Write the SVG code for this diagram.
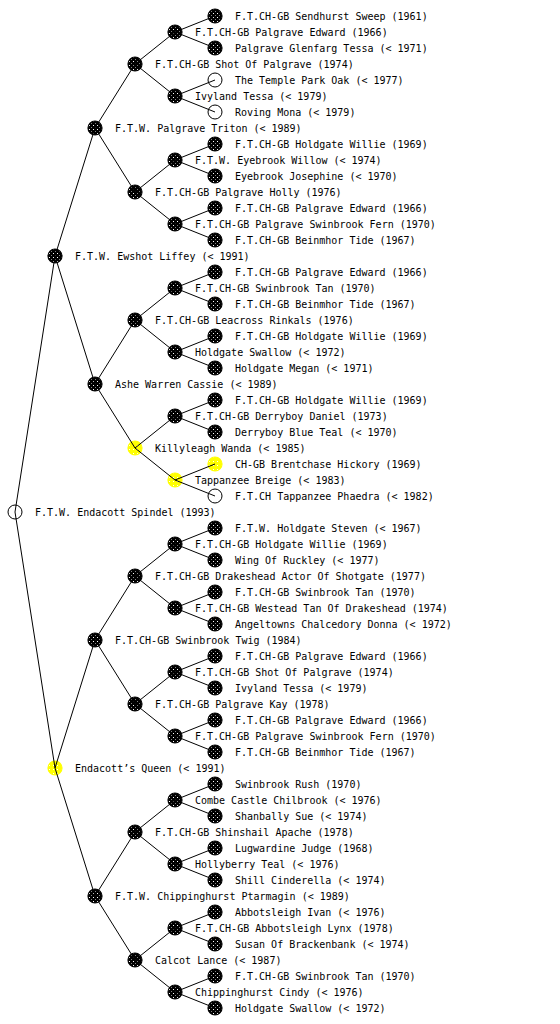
<svg xmlns="http://www.w3.org/2000/svg" width="560" height="1024" viewBox="0 0 560 1024">
<style>
text{font-family:"DejaVu Sans Mono","Liberation Mono",monospace;font-size:10px;fill:#000}
.b{fill:url(#pb);stroke:#000;stroke-width:1.2}
.y{fill:url(#py);stroke:#ffff00;stroke-width:1.2}
.w{fill:#fff;stroke:#000;stroke-width:1}
#edges path{fill:none;stroke:#000;stroke-width:1}
</style>
<defs>
<pattern id="pb" patternUnits="userSpaceOnUse" width="4" height="4"><rect width="4" height="4" fill="#000"/><rect x="1" y="1" width="1" height="1" fill="#fff"/><rect x="3" y="3" width="1" height="1" fill="#fff" opacity="0.5"/></pattern>
<pattern id="py" patternUnits="userSpaceOnUse" width="4" height="4"><rect width="4" height="4" fill="#ffff00"/><rect x="1" y="1" width="1" height="1" fill="#fff"/></pattern>
</defs>
<rect width="560" height="1024" fill="#fff"/>
<g id="nodes">
<g id="n0"><circle class="w" cx="15" cy="512" r="7"/><text x="35" y="516">F.T.W. Endacott Spindel (1993)</text></g>
<g id="n1"><circle class="b" cx="55" cy="256" r="7"/><text x="75" y="260">F.T.W. Ewshot Liffey (&lt; 1991)</text></g>
<g id="n2"><circle class="y" cx="55" cy="768" r="7"/><text x="75" y="772">Endacott’s Queen (&lt; 1991)</text></g>
<g id="n3"><circle class="b" cx="95" cy="128" r="7"/><text x="115" y="132">F.T.W. Palgrave Triton (&lt; 1989)</text></g>
<g id="n4"><circle class="b" cx="95" cy="384" r="7"/><text x="115" y="388">Ashe Warren Cassie (&lt; 1989)</text></g>
<g id="n5"><circle class="b" cx="95" cy="640" r="7"/><text x="115" y="644">F.T.CH-GB Swinbrook Twig (1984)</text></g>
<g id="n6"><circle class="b" cx="95" cy="896" r="7"/><text x="115" y="900">F.T.W. Chippinghurst Ptarmagin (&lt; 1989)</text></g>
<g id="n7"><circle class="b" cx="135" cy="64" r="7"/><text x="155" y="68">F.T.CH-GB Shot Of Palgrave (1974)</text></g>
<g id="n8"><circle class="b" cx="135" cy="192" r="7"/><text x="155" y="196">F.T.CH-GB Palgrave Holly (1976)</text></g>
<g id="n9"><circle class="b" cx="135" cy="320" r="7"/><text x="155" y="324">F.T.CH-GB Leacross Rinkals (1976)</text></g>
<g id="n10"><circle class="y" cx="135" cy="448" r="7"/><text x="155" y="452">Killyleagh Wanda (&lt; 1985)</text></g>
<g id="n11"><circle class="b" cx="135" cy="576" r="7"/><text x="155" y="580">F.T.CH-GB Drakeshead Actor Of Shotgate (1977)</text></g>
<g id="n12"><circle class="b" cx="135" cy="704" r="7"/><text x="155" y="708">F.T.CH-GB Palgrave Kay (1978)</text></g>
<g id="n13"><circle class="b" cx="135" cy="832" r="7"/><text x="155" y="836">F.T.CH-GB Shinshail Apache (1978)</text></g>
<g id="n14"><circle class="b" cx="135" cy="960" r="7"/><text x="155" y="964">Calcot Lance (&lt; 1987)</text></g>
<g id="n15"><circle class="b" cx="175" cy="32" r="7"/><text x="195" y="36">F.T.CH-GB Palgrave Edward (1966)</text></g>
<g id="n16"><circle class="b" cx="175" cy="96" r="7"/><text x="195" y="100">Ivyland Tessa (&lt; 1979)</text></g>
<g id="n17"><circle class="b" cx="175" cy="160" r="7"/><text x="195" y="164">F.T.W. Eyebrook Willow (&lt; 1974)</text></g>
<g id="n18"><circle class="b" cx="175" cy="224" r="7"/><text x="195" y="228">F.T.CH-GB Palgrave Swinbrook Fern (1970)</text></g>
<g id="n19"><circle class="b" cx="175" cy="288" r="7"/><text x="195" y="292">F.T.CH-GB Swinbrook Tan (1970)</text></g>
<g id="n20"><circle class="b" cx="175" cy="352" r="7"/><text x="195" y="356">Holdgate Swallow (&lt; 1972)</text></g>
<g id="n21"><circle class="b" cx="175" cy="416" r="7"/><text x="195" y="420">F.T.CH-GB Derryboy Daniel (1973)</text></g>
<g id="n22"><circle class="y" cx="175" cy="480" r="7"/><text x="195" y="484">Tappanzee Breige (&lt; 1983)</text></g>
<g id="n23"><circle class="b" cx="175" cy="544" r="7"/><text x="195" y="548">F.T.CH-GB Holdgate Willie (1969)</text></g>
<g id="n24"><circle class="b" cx="175" cy="608" r="7"/><text x="195" y="612">F.T.CH-GB Westead Tan Of Drakeshead (1974)</text></g>
<g id="n25"><circle class="b" cx="175" cy="672" r="7"/><text x="195" y="676">F.T.CH-GB Shot Of Palgrave (1974)</text></g>
<g id="n26"><circle class="b" cx="175" cy="736" r="7"/><text x="195" y="740">F.T.CH-GB Palgrave Swinbrook Fern (1970)</text></g>
<g id="n27"><circle class="b" cx="175" cy="800" r="7"/><text x="195" y="804">Combe Castle Chilbrook (&lt; 1976)</text></g>
<g id="n28"><circle class="b" cx="175" cy="864" r="7"/><text x="195" y="868">Hollyberry Teal (&lt; 1976)</text></g>
<g id="n29"><circle class="b" cx="175" cy="928" r="7"/><text x="195" y="932">F.T.CH-GB Abbotsleigh Lynx (1978)</text></g>
<g id="n30"><circle class="b" cx="175" cy="992" r="7"/><text x="195" y="996">Chippinghurst Cindy (&lt; 1976)</text></g>
<g id="n31"><circle class="b" cx="215" cy="16" r="7"/><text x="235" y="20">F.T.CH-GB Sendhurst Sweep (1961)</text></g>
<g id="n32"><circle class="b" cx="215" cy="48" r="7"/><text x="235" y="52">Palgrave Glenfarg Tessa (&lt; 1971)</text></g>
<g id="n33"><circle class="w" cx="215" cy="80" r="7"/><text x="235" y="84">The Temple Park Oak (&lt; 1977)</text></g>
<g id="n34"><circle class="w" cx="215" cy="112" r="7"/><text x="235" y="116">Roving Mona (&lt; 1979)</text></g>
<g id="n35"><circle class="b" cx="215" cy="144" r="7"/><text x="235" y="148">F.T.CH-GB Holdgate Willie (1969)</text></g>
<g id="n36"><circle class="b" cx="215" cy="176" r="7"/><text x="235" y="180">Eyebrook Josephine (&lt; 1970)</text></g>
<g id="n37"><circle class="b" cx="215" cy="208" r="7"/><text x="235" y="212">F.T.CH-GB Palgrave Edward (1966)</text></g>
<g id="n38"><circle class="b" cx="215" cy="240" r="7"/><text x="235" y="244">F.T.CH-GB Beinmhor Tide (1967)</text></g>
<g id="n39"><circle class="b" cx="215" cy="272" r="7"/><text x="235" y="276">F.T.CH-GB Palgrave Edward (1966)</text></g>
<g id="n40"><circle class="b" cx="215" cy="304" r="7"/><text x="235" y="308">F.T.CH-GB Beinmhor Tide (1967)</text></g>
<g id="n41"><circle class="b" cx="215" cy="336" r="7"/><text x="235" y="340">F.T.CH-GB Holdgate Willie (1969)</text></g>
<g id="n42"><circle class="b" cx="215" cy="368" r="7"/><text x="235" y="372">Holdgate Megan (&lt; 1971)</text></g>
<g id="n43"><circle class="b" cx="215" cy="400" r="7"/><text x="235" y="404">F.T.CH-GB Holdgate Willie (1969)</text></g>
<g id="n44"><circle class="b" cx="215" cy="432" r="7"/><text x="235" y="436">Derryboy Blue Teal (&lt; 1970)</text></g>
<g id="n45"><circle class="y" cx="215" cy="464" r="7"/><text x="235" y="468">CH-GB Brentchase Hickory (1969)</text></g>
<g id="n46"><circle class="w" cx="215" cy="496" r="7"/><text x="235" y="500">F.T.CH Tappanzee Phaedra (&lt; 1982)</text></g>
<g id="n47"><circle class="b" cx="215" cy="528" r="7"/><text x="235" y="532">F.T.W. Holdgate Steven (&lt; 1967)</text></g>
<g id="n48"><circle class="b" cx="215" cy="560" r="7"/><text x="235" y="564">Wing Of Ruckley (&lt; 1977)</text></g>
<g id="n49"><circle class="b" cx="215" cy="592" r="7"/><text x="235" y="596">F.T.CH-GB Swinbrook Tan (1970)</text></g>
<g id="n50"><circle class="b" cx="215" cy="624" r="7"/><text x="235" y="628">Angeltowns Chalcedory Donna (&lt; 1972)</text></g>
<g id="n51"><circle class="b" cx="215" cy="656" r="7"/><text x="235" y="660">F.T.CH-GB Palgrave Edward (1966)</text></g>
<g id="n52"><circle class="b" cx="215" cy="688" r="7"/><text x="235" y="692">Ivyland Tessa (&lt; 1979)</text></g>
<g id="n53"><circle class="b" cx="215" cy="720" r="7"/><text x="235" y="724">F.T.CH-GB Palgrave Edward (1966)</text></g>
<g id="n54"><circle class="b" cx="215" cy="752" r="7"/><text x="235" y="756">F.T.CH-GB Beinmhor Tide (1967)</text></g>
<g id="n55"><circle class="b" cx="215" cy="784" r="7"/><text x="235" y="788">Swinbrook Rush (1970)</text></g>
<g id="n56"><circle class="b" cx="215" cy="816" r="7"/><text x="235" y="820">Shanbally Sue (&lt; 1974)</text></g>
<g id="n57"><circle class="b" cx="215" cy="848" r="7"/><text x="235" y="852">Lugwardine Judge (1968)</text></g>
<g id="n58"><circle class="b" cx="215" cy="880" r="7"/><text x="235" y="884">Shill Cinderella (&lt; 1974)</text></g>
<g id="n59"><circle class="b" cx="215" cy="912" r="7"/><text x="235" y="916">Abbotsleigh Ivan (&lt; 1976)</text></g>
<g id="n60"><circle class="b" cx="215" cy="944" r="7"/><text x="235" y="948">Susan Of Brackenbank (&lt; 1974)</text></g>
<g id="n61"><circle class="b" cx="215" cy="976" r="7"/><text x="235" y="980">F.T.CH-GB Swinbrook Tan (1970)</text></g>
<g id="n62"><circle class="b" cx="215" cy="1008" r="7"/><text x="235" y="1012">Holdgate Swallow (&lt; 1972)</text></g>
</g>
<g id="edges">
<path d="M15 512L55 256M15 512L55 768
M55 256L95 128M55 256L95 384M55 768L95 640M55 768L95 896
M95 128L135 64M95 128L135 192M95 384L135 320M95 384L135 448M95 640L135 576M95 640L135 704M95 896L135 832M95 896L135 960
M135 64L175 32M135 64L175 96M135 192L175 160M135 192L175 224M135 320L175 288M135 320L175 352M135 448L175 416M135 448L175 480
M135 576L175 544M135 576L175 608M135 704L175 672M135 704L175 736M135 832L175 800M135 832L175 864M135 960L175 928M135 960L175 992
M175 32L215 16M175 32L215 48M175 96L215 80M175 96L215 112M175 160L215 144M175 160L215 176M175 224L215 208M175 224L215 240
M175 288L215 272M175 288L215 304M175 352L215 336M175 352L215 368M175 416L215 400M175 416L215 432M175 480L215 464M175 480L215 496
M175 544L215 528M175 544L215 560M175 608L215 592M175 608L215 624M175 672L215 656M175 672L215 688M175 736L215 720M175 736L215 752
M175 800L215 784M175 800L215 816M175 864L215 848M175 864L215 880M175 928L215 912M175 928L215 944M175 992L215 976M175 992L215 1008"/>
</g>
</svg>
